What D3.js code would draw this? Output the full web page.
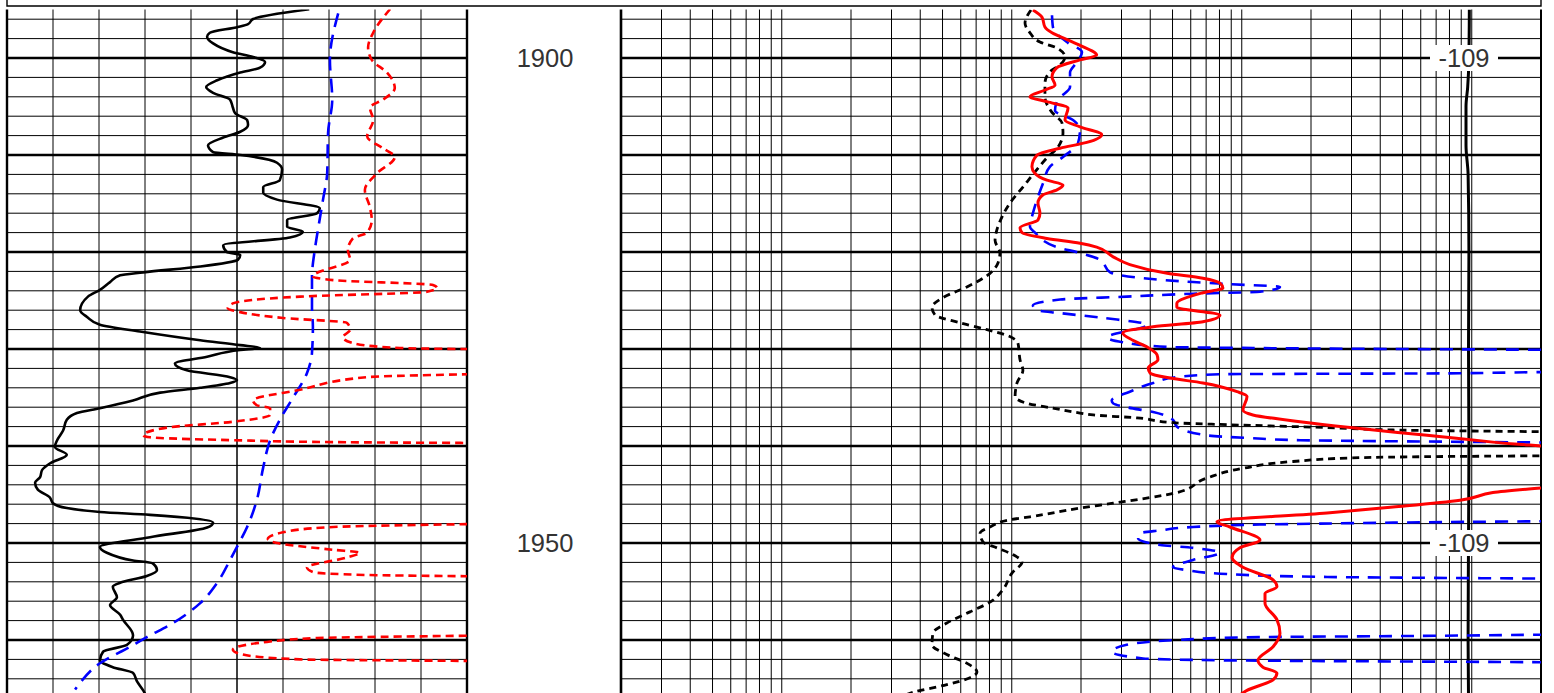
<!DOCTYPE html>
<html><head><meta charset="utf-8">
<script src="https://cdn.jsdelivr.net/npm/d3@7"></script>
<style>html,body{margin:0;padding:0;background:#fff;overflow:hidden}</style>
</head><body><svg id="c" width="1554" height="693"></svg>
<script>
// ---- data: [depth, value] pairs ----
// left track (linear 0-100)
const leftBlackSolid = [[1894.98,65.7],[1895.98,53.5],[1896.5,52.4],[1896.8,50.2],[1897.4,44.1],[1897.8,43.5],[1898.5,44.8],[1899.4,49.1],[1899.9,53.5],[1900.4,56.1],[1901.0,55.0],[1901.5,50.7],[1902.3,45.7],[1903.0,43.3],[1903.6,44.8],[1904.3,48.5],[1905.1,49.1],[1905.7,49.6],[1906.4,52.2],[1906.9,52.4],[1907.6,50.7],[1908.2,47.0],[1909.0,43.7],[1909.7,44.8],[1910.0,50.7],[1910.8,58.7],[1911.5,59.8],[1912.6,59.3],[1913.3,55.7],[1913.9,55.7],[1914.6,58.7],[1915.5,68.0],[1916.0,67.4],[1916.7,60.9],[1917.4,60.9],[1917.9,64.3],[1918.5,61.5],[1919.3,47.0],[1920.0,47.8],[1920.3,50.7],[1920.8,50.2],[1921.5,42.0],[1922.1,29.6],[1922.4,24.6],[1923.1,22.4],[1923.9,20.2],[1924.6,17.6],[1926.0,15.9],[1926.7,17.4],[1927.5,20.2],[1928.2,28.9],[1929.1,42.0],[1929.6,50.7],[1929.9,55.0],[1930.1,50.7],[1930.8,43.5],[1931.5,36.5],[1932.2,39.1],[1932.9,48.5],[1933.2,50.0],[1933.5,48.5],[1934.0,42.0],[1934.5,33.3],[1935.3,27.4],[1936.1,20.2],[1936.6,15.2],[1937.3,13.0],[1938.4,12.2],[1939.4,10.9],[1940.1,10.4],[1940.9,13.0],[1941.8,9.3],[1942.5,7.6],[1943.2,7.2],[1943.8,6.1],[1944.5,6.7],[1945.3,9.3],[1945.9,10.0],[1946.4,13.0],[1946.8,20.2],[1947.1,31.1],[1947.9,44.8],[1948.4,43.5],[1949.4,31.1],[1950.4,20.2],[1951.0,21.7],[1951.8,27.4],[1952.1,31.7],[1952.8,32.6],[1953.4,30.4],[1954.1,24.6],[1954.5,23.0],[1955.6,23.9],[1956.4,22.4],[1957.4,24.6],[1957.9,25.2],[1959.5,27.4],[1960.5,26.1],[1961.2,20.9],[1962.1,20.2],[1962.8,23.0],[1963.4,27.4],[1964.3,28.3],[1965.2,29.6],[1965.9,30.4]];
const leftBlueDashed = [[1895.4,72.0],[1900.2,70.2],[1904.3,70.7],[1907.7,69.8],[1911.9,69.6],[1914.6,68.7],[1917.7,67.6],[1919.5,67.0],[1922.6,66.3],[1925.7,66.3],[1927.7,66.5],[1930.4,66.3],[1932.5,65.2],[1935.0,62.2],[1937.3,59.3],[1939.4,57.2],[1942.2,55.7],[1945.6,54.3],[1948.35,52.2],[1950.4,50.0],[1951.75,48.5],[1954.1,45.7],[1956.2,42.0],[1958.25,36.1],[1959.7,30.4],[1960.7,26.7],[1962.4,20.2],[1964.4,15.9],[1965.1,14.8]];
const leftRedDashed = [[1894.95,83.3],[1897.4,79.6],[1898.9,78.5],[1900.2,79.3],[1901.5,82.6],[1903.1,84.3],[1904.3,81.7],[1905.1,78.9],[1906.4,79.6],[1908.1,78.3],[1909.3,81.7],[1910.2,84.3],[1911.9,80.4],[1913.6,77.8],[1915.4,78.9],[1916.7,79.3],[1918.0,78.3],[1918.6,75.2],[1919.8,74.1],[1920.8,74.6],[1922.5,66.5],[1922.9,70.9],[1923.4,92.6],[1923.7,93.5],[1924.1,91.3],[1924.6,63.7],[1925.3,49.1],[1925.8,48.0],[1926.2,50.7],[1926.8,60.0],[1927.3,73.9],[1928.0,74.6],[1928.8,73.0],[1929.4,75.2],[1929.9,85.4],[1930.2,130],[1932.2,130],[1932.9,78.3],[1934.2,63.7],[1935.3,53.5],[1935.8,54.3],[1936.1,57.2],[1936.8,57.2],[1937.5,49.1],[1938.1,34.8],[1938.9,29.6],[1939.1,31.1],[1939.4,49.1],[1939.6,70.9],[1939.8,130],[1947.7,130],[1948.35,70.9],[1948.9,60.0],[1949.6,56.7],[1950.0,58.7],[1950.7,70.9],[1951.0,76.7],[1951.5,73.9],[1952.5,65.2],[1953.0,66.5],[1953.3,78.3],[1953.6,130],[1959.3,130],[1959.8,67.4],[1960.2,56.5],[1961.0,49.1],[1961.5,51.3],[1962.0,63.7],[1962.3,130],[1967,130]];
// right track (log 1-10000)
const rightBlackDashed = [[1895.05,60.6],[1896.4,57.1],[1897.4,60.0],[1898.35,66.3],[1898.97,78.6],[1899.9,85.2],[1900.7,81.1],[1901.4,73.3],[1902.6,69.7],[1904.0,69.7],[1905.6,74.8],[1906.7,82.7],[1907.7,83.5],[1909.2,79.4],[1910.3,71.1],[1911.75,63.1],[1913.3,55.9],[1914.95,49.1],[1916.4,45.3],[1917.7,43.1],[1918.8,42.3],[1920.1,44.4],[1921.1,43.6],[1922.2,40.2],[1923.6,31.9],[1924.7,25.1],[1925.7,22.5],[1926.5,23.2],[1927.3,29.8],[1928.0,39.0],[1928.6,47.7],[1929.4,53.2],[1931.1,54.3],[1932.2,55.9],[1933.5,52.7],[1934.9,51.7],[1935.6,58.2],[1936.1,75.5],[1936.6,99],[1936.8,113],[1937.1,175],[1937.6,251],[1937.8,431],[1938.1,1174],[1938.35,2274],[1938.7,30000],[1940.9,30000],[1941.1,3194],[1941.2,1633],[1941.6,835],[1942.3,506],[1943.3,353],[1944.8,261],[1945.9,138],[1946.4,99],[1947.3,60.0],[1947.6,49.1],[1948.35,40.2],[1949.0,36.4],[1949.9,37.5],[1950.5,43.1],[1951.2,50.6],[1951.96,55.4],[1953.1,50.1],[1954.8,45.8],[1956.1,40.2],[1957.1,32.9],[1958.25,26.1],[1959.3,22.7],[1960.5,22.5],[1961.5,26.1],[1962.4,31.9],[1963.3,35.3],[1963.9,32.9],[1964.6,26.1],[1965.4,18.6],[1966.2,15.5]];
const rightBlueDashed = [[1895.6,74.8],[1896.8,75.5],[1898.45,87.8],[1899.4,101],[1900.4,96.1],[1901.5,89.6],[1903.0,89.6],[1904.3,79.4],[1905.4,77.1],[1906.4,92.3],[1907.4,99],[1908.8,97],[1910.2,83.5],[1911.2,73.3],[1912.9,68.4],[1914.6,64.4],[1916.0,61.8],[1917.4,60.0],[1918.0,63.1],[1919.5,78.6],[1920.1,99],[1920.8,121],[1922.1,134],[1922.7,186],[1923.1,307],[1923.3,431],[1923.6,733],[1924.1,600],[1924.3,307],[1924.6,158],[1924.9,81.1],[1925.5,61.8],[1926.0,64.4],[1926.3,81.1],[1926.8,125],[1927.5,194],[1928.8,130],[1929.3,152],[1929.8,244],[1929.9,559],[1930.2,30000],[1932.0,30000],[1932.5,4444],[1932.6,402],[1932.9,261],[1933.5,206],[1934.4,163],[1935.3,136],[1935.6,138],[1936.0,158],[1936.5,206],[1937.3,251],[1938.0,261],[1938.9,353],[1939.2,559],[1939.4,896],[1939.8,30000],[1947.6,30000],[1947.9,2274],[1948.1,600],[1948.35,307],[1948.7,221],[1949.0,180],[1949.5,177],[1950.2,221],[1950.5,307],[1951.0,402],[1951.75,307],[1952.5,251],[1952.8,289],[1953.2,431],[1953.5,1174],[1953.8,30000],[1959.2,30000],[1959.6,2274],[1959.7,600],[1960.0,261],[1960.5,158],[1961.2,136],[1961.9,186],[1962.1,431],[1962.4,30000],[1967,30000]];
const rightRedSolid = [[1895.05,61.8],[1895.8,67.7],[1896.8,69.7],[1897.4,74.8],[1898.1,86.9],[1898.7,99],[1899.7,117],[1900.2,99],[1901.0,78.6],[1901.96,74.8],[1902.8,77.1],[1903.3,69.7],[1904.0,60.0],[1904.5,71.1],[1905.15,87.8],[1906.4,85.2],[1907.1,99],[1907.9,123],[1908.7,106],[1909.3,81.1],[1910.0,64.4],[1911.2,61.2],[1911.9,63.1],[1912.6,71.1],[1913.1,83.5],[1913.6,78.6],[1914.1,68.4],[1914.95,65.0],[1916.0,66.3],[1916.7,65.0],[1917.5,54.3],[1918.0,55.4],[1918.6,71.1],[1919.1,99],[1919.5,117],[1920.5,138],[1921.3,163],[1922.2,237],[1922.7,339],[1923.2,402],[1923.7,414],[1924.2,339],[1925.3,261],[1925.7,261],[1926.5,402],[1927.2,339],[1927.7,206],[1928.35,152],[1929.1,168],[1929.8,194],[1930.6,214],[1931.1,216],[1931.96,196],[1932.5,200],[1933.0,244],[1933.5,339],[1934.4,477],[1934.9,527],[1936.3,506],[1936.8,559],[1937.5,896],[1938.1,1478],[1938.9,3194],[1939.6,6180],[1940.5,15000],[1943.8,15000],[1944.8,6180],[1945.6,4444],[1946.3,2274],[1946.9,1174],[1947.8,390],[1948.35,444],[1949.7,600],[1950.5,491],[1951.5,454],[1952.5,506],[1953.8,684],[1954.5,711],[1955.2,631],[1956.2,631],[1957.9,711],[1959.3,733],[1960.7,684],[1962.1,588],[1962.8,618],[1963.4,711],[1964.1,684],[1965.2,527],[1965.9,477]];
const rightBlackSolid = [[1895,4880],[1900,4860],[1903,4800],[1905,4720],[1909,4720],[1912,4820],[1920,4860],[1930,4840],[1940,4860],[1950,4840],[1960,4820],[1966,4840]];
// labels
const depthLabels = [1900, 1950];
const markerLabels = ["-109", "-109"];
// grid definitions
const leftTicks = d3.range(0, 101, 10);
const logDecades = [1, 10, 100, 1000];
const logMultipliers = [1, 1.5, 2, 2.5, 3, 3.5, 4, 4.5, 5];
const gridDepths = d3.range(1896, 1967, 2);

// ---- scales ----
const svg = d3.select("#c");
const y = d3.scaleLinear().domain([1900, 1950]).range([58, 543]);
const topY = y(1895), botY = y(1967);
const xL = d3.scaleLinear().domain([0, 100]).range([7, 467]);
const xR = d3.scaleLog().domain([1, 10000]).range([621, 1541]);
const font = "'Liberation Sans', Arial, Helvetica, sans-serif";

// header frame
svg.append("path").attr("d", `M${xL(0)},0V6H${xR(10000)}V0`).attr("fill","none").attr("stroke","#000").attr("stroke-width",1.4);

const defs = svg.append("defs");
defs.append("clipPath").attr("id","clipL").append("rect").attr("x",xL(0)).attr("y",topY).attr("width",xL(100)-xL(0)).attr("height",botY-topY);
defs.append("clipPath").attr("id","clipR").append("rect").attr("x",xR(1)).attr("y",topY).attr("width",xR(10000)-xR(1)).attr("height",botY-topY);

function hgrid(x0, x1) {
  const g = svg.append("g");
  g.selectAll("line").data(gridDepths).join("line")
    .attr("x1", x0).attr("x2", x1).attr("y1", d => y(d)).attr("y2", d => y(d))
    .attr("stroke", "#000").attr("stroke-width", d => d % 10 === 0 ? 2.6 : 1);
}
// left grid
hgrid(xL(0), xL(100));
svg.append("g").selectAll("line").data(leftTicks).join("line")
  .attr("x1", d => xL(d)).attr("x2", d => xL(d)).attr("y1", topY).attr("y2", botY)
  .attr("stroke", "#000").attr("stroke-width", d => (d === 0 || d === 100) ? 2.4 : (d === 50 ? 1.5 : 1));
// right grid
hgrid(xR(1), xR(10000));
const logTicks = [];
logDecades.forEach(dec => logMultipliers.forEach(m => logTicks.push(dec * m)));
logTicks.push(10000);
svg.append("g").selectAll("line").data(logTicks).join("line")
  .attr("x1", d => xR(d)).attr("x2", d => xR(d)).attr("y1", topY).attr("y2", botY)
  .attr("stroke", "#000").attr("stroke-width", d => d === 1 ? 2.6 : (d === 10000 ? 2 : 1));

// curves (depth-indexed, monotone in depth)
function curve(data, xs, clip, color, width, dash) {
  const line = d3.line().x(d => xs(d[1])).y(d => y(d[0])).curve(d3.curveMonotoneY);
  svg.append("path").datum(data).attr("d", line).attr("clip-path", `url(#${clip})`)
    .attr("fill", "none").attr("stroke", color).attr("stroke-width", width)
    .attr("stroke-linejoin", "round").attr("stroke-dasharray", dash || null);
}
curve(leftBlackSolid, xL, "clipL", "#000", 2.6);
curve(leftBlueDashed, xL, "clipL", "#0000ff", 2.6, "14,8");
curve(leftRedDashed, xL, "clipL", "#ff0000", 2.6, "8,5");

curve(rightBlackSolid, xR, "clipR", "#000", 3);
curve(rightBlueDashed, xR, "clipR", "#0000ff", 2.6, "13,9");
curve(rightBlackDashed, xR, "clipR", "#000", 2.8, "7,5");
curve(rightRedSolid, xR, "clipR", "#ff0000", 3);

// depth labels
svg.append("g").selectAll("text").data(depthLabels).join("text")
  .attr("x", 545).attr("y", d => y(d)).attr("dy", "0.36em")
  .attr("text-anchor", "middle").attr("font-family", font).attr("font-size", 25.5).attr("fill", "#333")
  .text(d => d);
// marker labels with white background
const mg = svg.append("g").selectAll("g").data(depthLabels).join("g")
  .attr("transform", d => `translate(${1464},${y(d)})`);
mg.append("rect").attr("x", -34).attr("y", -13).attr("width", 68).attr("height", 26).attr("fill", "#fff");
mg.append("text").attr("dy", "0.36em").attr("text-anchor", "middle").attr("font-family", font)
  .attr("font-size", 25.5).attr("fill", "#333").text((d, i) => markerLabels[i]);
</script></body></html>
